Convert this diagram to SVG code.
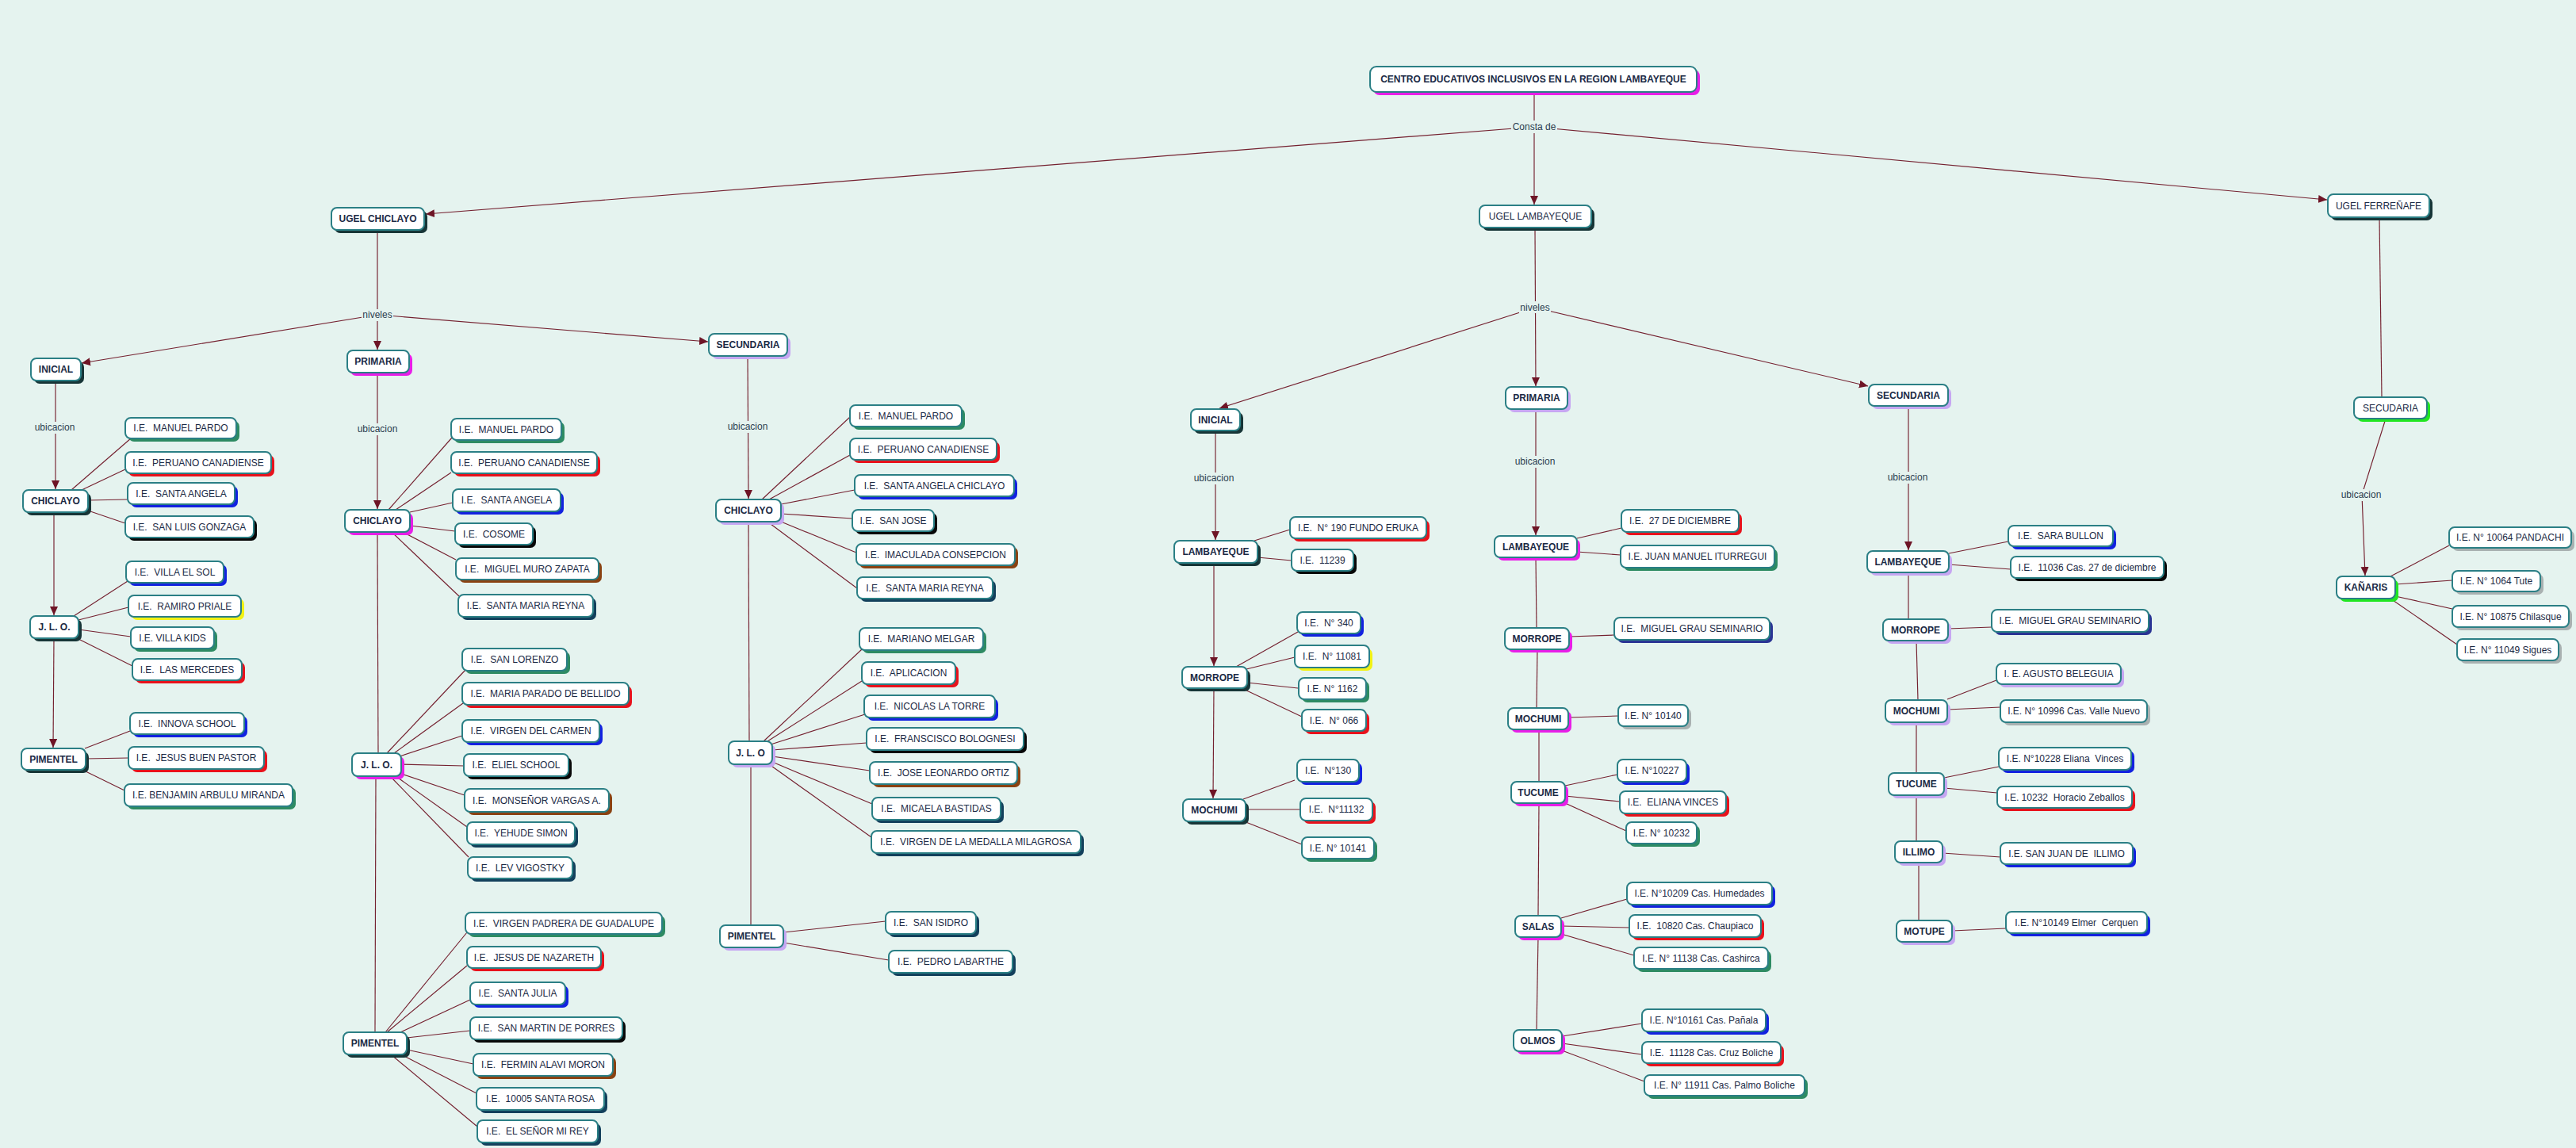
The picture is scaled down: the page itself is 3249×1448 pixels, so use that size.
<svg xmlns="http://www.w3.org/2000/svg" width="3249" height="1448" viewBox="0 0 3249 1448">
<style>
.bg{fill:#e5f3ef}
.box{fill:#ffffff;stroke:#2b7f85;stroke-width:2}
.s{stroke:none}
.green{fill:#2e8b63}.red{fill:#e8121c}.blue{fill:#1222e0}.black{fill:#080808}.dark{fill:#173537}
.mag{fill:#e81ee8}.lav{fill:#c6a6f2}.yellow{fill:#f2f214}.brown{fill:#8a4212}.navy{fill:#13405c}
.gray{fill:#a9b1b1}.lime{fill:#22e622}.dblue{fill:#2a3494}
.t{font-family:"Liberation Sans",Arial,sans-serif;font-size:12px;fill:#1b2a45;text-anchor:middle;white-space:pre}
.b{font-weight:bold}
.c{stroke:#74202f;stroke-width:1.15;fill:none}
.lb{fill:#e5f3ef}
.lt{font-family:"Liberation Sans",Arial,sans-serif;font-size:12px;fill:#2b3d4f;text-anchor:middle}
</style>
<defs>
<marker id="ah" markerUnits="userSpaceOnUse" markerWidth="12" markerHeight="11" refX="11" refY="5" orient="auto">
<path d="M0,0 L11,5 L0,10 z" fill="#6e1526"/>
</marker>
</defs>
<rect class="bg" x="0" y="0" width="3249" height="1448"/>
<g id="connectors">
<line class="c" x1="1935" y1="116" x2="1935" y2="258" marker-end="url(#ah)"/>
<line class="c" x1="1935" y1="160" x2="537" y2="270" marker-end="url(#ah)"/>
<line class="c" x1="1935" y1="160" x2="2935" y2="252" marker-end="url(#ah)"/>
<line class="c" x1="476" y1="290" x2="476" y2="441" marker-end="url(#ah)"/>
<line class="c" x1="476" y1="397" x2="103" y2="458" marker-end="url(#ah)"/>
<line class="c" x1="476" y1="397" x2="893" y2="431" marker-end="url(#ah)"/>
<line class="c" x1="70" y1="480" x2="70" y2="617" marker-end="url(#ah)"/>
<line class="c" x1="68" y1="646" x2="68" y2="776" marker-end="url(#ah)"/>
<line class="c" x1="68" y1="805" x2="67" y2="943" marker-end="url(#ah)"/>
<line class="c" x1="476" y1="470" x2="476" y2="642" marker-end="url(#ah)"/>
<line class="c" x1="476" y1="671" x2="477" y2="950"/>
<line class="c" x1="474" y1="979" x2="473" y2="1302"/>
<line class="c" x1="943" y1="449" x2="944" y2="629" marker-end="url(#ah)"/>
<line class="c" x1="944" y1="658" x2="945" y2="935"/>
<line class="c" x1="947" y1="964" x2="947" y2="1167"/>
<line class="c" x1="90" y1="618" x2="165" y2="553"/>
<line class="c" x1="103" y1="618" x2="158" y2="592"/>
<line class="c" x1="111" y1="631" x2="161" y2="630"/>
<line class="c" x1="111" y1="644" x2="158" y2="660"/>
<line class="c" x1="93" y1="777" x2="161" y2="733"/>
<line class="c" x1="99" y1="782" x2="162" y2="766"/>
<line class="c" x1="99" y1="794" x2="165" y2="803"/>
<line class="c" x1="97" y1="805" x2="167" y2="840"/>
<line class="c" x1="107" y1="944" x2="164" y2="922"/>
<line class="c" x1="108" y1="957" x2="162" y2="956"/>
<line class="c" x1="104" y1="971" x2="157" y2="997"/>
<line class="c" x1="490" y1="643" x2="570" y2="552"/>
<line class="c" x1="499" y1="643" x2="569" y2="596"/>
<line class="c" x1="517" y1="646" x2="571" y2="634"/>
<line class="c" x1="517" y1="663" x2="574" y2="670"/>
<line class="c" x1="508" y1="671" x2="575" y2="706"/>
<line class="c" x1="494" y1="671" x2="579" y2="752"/>
<line class="c" x1="488" y1="950" x2="587" y2="845"/>
<line class="c" x1="497" y1="950" x2="584" y2="887"/>
<line class="c" x1="504" y1="954" x2="583" y2="928"/>
<line class="c" x1="506" y1="964" x2="585" y2="966"/>
<line class="c" x1="506" y1="976" x2="586" y2="1003"/>
<line class="c" x1="499" y1="979" x2="589" y2="1043"/>
<line class="c" x1="492" y1="979" x2="591" y2="1081"/>
<line class="c" x1="486" y1="1302" x2="589" y2="1176"/>
<line class="c" x1="488" y1="1302" x2="589" y2="1218"/>
<line class="c" x1="505" y1="1302" x2="593" y2="1261"/>
<line class="c" x1="513" y1="1309" x2="593" y2="1300"/>
<line class="c" x1="513" y1="1324" x2="597" y2="1342"/>
<line class="c" x1="506" y1="1330" x2="601" y2="1379"/>
<line class="c" x1="493" y1="1330" x2="602" y2="1421"/>
<line class="c" x1="961" y1="630" x2="1072" y2="526"/>
<line class="c" x1="970" y1="630" x2="1072" y2="574"/>
<line class="c" x1="985" y1="636" x2="1078" y2="618"/>
<line class="c" x1="985" y1="648" x2="1075" y2="654"/>
<line class="c" x1="985" y1="658" x2="1080" y2="697"/>
<line class="c" x1="968" y1="658" x2="1081" y2="742"/>
<line class="c" x1="963" y1="935" x2="1087" y2="819"/>
<line class="c" x1="968" y1="935" x2="1087" y2="859"/>
<line class="c" x1="972" y1="939" x2="1091" y2="901"/>
<line class="c" x1="974" y1="946" x2="1093" y2="937"/>
<line class="c" x1="974" y1="954" x2="1097" y2="972"/>
<line class="c" x1="974" y1="961" x2="1100" y2="1014"/>
<line class="c" x1="970" y1="964" x2="1099" y2="1056"/>
<line class="c" x1="988" y1="1176" x2="1117" y2="1162"/>
<line class="c" x1="988" y1="1189" x2="1121" y2="1211"/>
<line class="c" x1="1936" y1="287" x2="1937" y2="487" marker-end="url(#ah)"/>
<line class="c" x1="1936" y1="388" x2="1538" y2="515" marker-end="url(#ah)"/>
<line class="c" x1="1936" y1="388" x2="2356" y2="487" marker-end="url(#ah)"/>
<line class="c" x1="1533" y1="542" x2="1533" y2="681" marker-end="url(#ah)"/>
<line class="c" x1="1531" y1="710" x2="1531" y2="840" marker-end="url(#ah)"/>
<line class="c" x1="1531" y1="868" x2="1530" y2="1007" marker-end="url(#ah)"/>
<line class="c" x1="1937" y1="516" x2="1937" y2="675" marker-end="url(#ah)"/>
<line class="c" x1="1937" y1="703" x2="1938" y2="792"/>
<line class="c" x1="1939" y1="819" x2="1938" y2="893"/>
<line class="c" x1="1941" y1="920" x2="1941" y2="986"/>
<line class="c" x1="1941" y1="1013" x2="1940" y2="1155"/>
<line class="c" x1="1940" y1="1182" x2="1938" y2="1299"/>
<line class="c" x1="2407" y1="512" x2="2407" y2="694" marker-end="url(#ah)"/>
<line class="c" x1="2407" y1="722" x2="2407" y2="781"/>
<line class="c" x1="2417" y1="808" x2="2419" y2="883"/>
<line class="c" x1="2417" y1="911" x2="2417" y2="975"/>
<line class="c" x1="2417" y1="1003" x2="2417" y2="1061"/>
<line class="c" x1="2420" y1="1088" x2="2420" y2="1161"/>
<line class="c" x1="1582" y1="682" x2="1627" y2="668"/>
<line class="c" x1="1586" y1="703" x2="1629" y2="707"/>
<line class="c" x1="1559" y1="841" x2="1637" y2="797"/>
<line class="c" x1="1572" y1="844" x2="1633" y2="829"/>
<line class="c" x1="1573" y1="861" x2="1637" y2="868"/>
<line class="c" x1="1566" y1="868" x2="1642" y2="904"/>
<line class="c" x1="1568" y1="1008" x2="1633" y2="984"/>
<line class="c" x1="1571" y1="1021" x2="1640" y2="1021"/>
<line class="c" x1="1569" y1="1036" x2="1642" y2="1065"/>
<line class="c" x1="1989" y1="679" x2="2045" y2="666"/>
<line class="c" x1="1989" y1="696" x2="2044" y2="700"/>
<line class="c" x1="1979" y1="803" x2="2036" y2="801"/>
<line class="c" x1="1978" y1="905" x2="2041" y2="903"/>
<line class="c" x1="1974" y1="991" x2="2040" y2="977"/>
<line class="c" x1="1974" y1="1004" x2="2043" y2="1011"/>
<line class="c" x1="1974" y1="1013" x2="2051" y2="1048"/>
<line class="c" x1="1969" y1="1158" x2="2052" y2="1134"/>
<line class="c" x1="1969" y1="1168" x2="2055" y2="1170"/>
<line class="c" x1="1969" y1="1178" x2="2061" y2="1205"/>
<line class="c" x1="1970" y1="1307" x2="2071" y2="1291"/>
<line class="c" x1="1970" y1="1316" x2="2071" y2="1330"/>
<line class="c" x1="1970" y1="1325" x2="2074" y2="1364"/>
<line class="c" x1="2458" y1="698" x2="2533" y2="683"/>
<line class="c" x1="2458" y1="712" x2="2536" y2="718"/>
<line class="c" x1="2457" y1="793" x2="2512" y2="791"/>
<line class="c" x1="2456" y1="882" x2="2518" y2="858"/>
<line class="c" x1="2456" y1="895" x2="2523" y2="892"/>
<line class="c" x1="2452" y1="981" x2="2521" y2="967"/>
<line class="c" x1="2452" y1="994" x2="2519" y2="1000"/>
<line class="c" x1="2450" y1="1076" x2="2523" y2="1081"/>
<line class="c" x1="2462" y1="1174" x2="2530" y2="1171"/>
<line class="c" x1="3001" y1="274" x2="3004" y2="501"/>
<polyline class="c" points="3009,528 2979,624 2983,726" marker-end="url(#ah)"/>
<line class="c" x1="3015" y1="727" x2="3089" y2="688"/>
<line class="c" x1="3021" y1="737" x2="3093" y2="732"/>
<line class="c" x1="3021" y1="752" x2="3093" y2="768"/>
<line class="c" x1="3015" y1="755" x2="3099" y2="813"/>
</g>
<g id="labels">
<rect class="lb" x="1906" y="152" width="58" height="16"/><text class="lt" x="1935" y="164">Consta de</text>
<rect class="lb" x="456" y="390" width="40" height="15"/><text class="lt" x="476" y="401">niveles</text>
<rect class="lb" x="1916" y="380" width="40" height="15"/><text class="lt" x="1936" y="392">niveles</text>
<rect class="lb" x="43" y="532" width="53" height="15"/><text class="lt" x="69" y="543">ubicacion</text>
<rect class="lb" x="450" y="534" width="53" height="15"/><text class="lt" x="476" y="545">ubicacion</text>
<rect class="lb" x="917" y="531" width="53" height="15"/><text class="lt" x="943" y="542">ubicacion</text>
<rect class="lb" x="1505" y="596" width="53" height="15"/><text class="lt" x="1531" y="607">ubicacion</text>
<rect class="lb" x="1910" y="575" width="53" height="15"/><text class="lt" x="1936" y="586">ubicacion</text>
<rect class="lb" x="2380" y="595" width="53" height="15"/><text class="lt" x="2406" y="606">ubicacion</text>
<rect class="lb" x="2952" y="617" width="53" height="15"/><text class="lt" x="2978" y="628">ubicacion</text>
</g>
<g id="n_title"><rect class="s mag" x="1732" y="88" width="412" height="32" rx="8"/><rect class="box" x="1728" y="84" width="412" height="32" rx="8"/><text class="t b" x="1934" y="104">CENTRO EDUCATIVOS INCLUSIVOS EN LA REGION LAMBAYEQUE</text></g>
<g id="n_ugel_chiclayo"><rect class="s dark" x="422" y="266" width="117" height="28" rx="7"/><rect class="box" x="418" y="262" width="117" height="28" rx="7"/><text class="t b" x="476.5" y="280.3">UGEL CHICLAYO</text></g>
<g id="n_ugel_lambayeque"><rect class="s dark" x="1870" y="263" width="141" height="28" rx="7"/><rect class="box" x="1866" y="259" width="141" height="28" rx="7"/><text class="t" x="1936.5" y="277.3">UGEL LAMBAYEQUE</text></g>
<g id="n_ugel_ferrenafe"><rect class="s dark" x="2940" y="249" width="128" height="29" rx="7"/><rect class="box" x="2936" y="245" width="128" height="29" rx="7"/><text class="t" x="3000" y="263.8">UGEL FERREÑAFE</text></g>
<g id="n_c_inicial"><rect class="s dark" x="43" y="456" width="63" height="28" rx="7"/><rect class="box" x="39" y="452" width="63" height="28" rx="7"/><text class="t b" x="70.5" y="470.3">INICIAL</text></g>
<g id="n_c_primaria"><rect class="s mag" x="442" y="446" width="78" height="28" rx="7"/><rect class="box" x="438" y="442" width="78" height="28" rx="7"/><text class="t b" x="477" y="460.3">PRIMARIA</text></g>
<g id="n_c_secundaria"><rect class="s lav" x="898" y="425" width="99" height="28" rx="7"/><rect class="box" x="894" y="421" width="99" height="28" rx="7"/><text class="t b" x="943.5" y="439.3">SECUNDARIA</text></g>
<g id="n_ci_chiclayo"><rect class="s dark" x="33" y="622" width="82" height="28" rx="7"/><rect class="box" x="29" y="618" width="82" height="28" rx="7"/><text class="t b" x="70" y="636.3">CHICLAYO</text></g>
<g id="n_ci1"><rect class="s green" x="162" y="531" width="140" height="26" rx="7"/><rect class="box" x="158" y="527" width="140" height="26" rx="7"/><text class="t" x="228" y="544.3">I.E.  MANUEL PARDO</text></g>
<g id="n_ci2"><rect class="s red" x="162" y="574" width="184" height="27" rx="7"/><rect class="box" x="158" y="570" width="184" height="27" rx="7"/><text class="t" x="250" y="587.8">I.E.  PERUANO CANADIENSE</text></g>
<g id="n_ci3"><rect class="s blue" x="165" y="613" width="135" height="27" rx="7"/><rect class="box" x="161" y="609" width="135" height="27" rx="7"/><text class="t" x="228.5" y="626.8">I.E.  SANTA ANGELA</text></g>
<g id="n_ci4"><rect class="s black" x="162" y="655" width="162" height="27" rx="7"/><rect class="box" x="158" y="651" width="162" height="27" rx="7"/><text class="t" x="239" y="668.8">I.E.  SAN LUIS GONZAGA</text></g>
<g id="n_ci_jlo"><rect class="s dark" x="42" y="781" width="61" height="28" rx="7"/><rect class="box" x="38" y="777" width="61" height="28" rx="7"/><text class="t b" x="68.5" y="795.3">J. L. O.</text></g>
<g id="n_ci5"><rect class="s blue" x="163" y="712" width="123" height="27" rx="7"/><rect class="box" x="159" y="708" width="123" height="27" rx="7"/><text class="t" x="220.5" y="725.8">I.E.  VILLA EL SOL</text></g>
<g id="n_ci6"><rect class="s yellow" x="166" y="755" width="142" height="27" rx="7"/><rect class="box" x="162" y="751" width="142" height="27" rx="7"/><text class="t" x="233" y="768.8">I.E.  RAMIRO PRIALE</text></g>
<g id="n_ci7"><rect class="s green" x="169" y="795" width="105" height="27" rx="7"/><rect class="box" x="165" y="791" width="105" height="27" rx="7"/><text class="t" x="217.5" y="808.8">I.E. VILLA KIDS</text></g>
<g id="n_ci8"><rect class="s red" x="171" y="835" width="138" height="27" rx="7"/><rect class="box" x="167" y="831" width="138" height="27" rx="7"/><text class="t" x="236" y="848.8">I.E.  LAS MERCEDES</text></g>
<g id="n_ci_pimentel"><rect class="s dark" x="31" y="948" width="81" height="27" rx="7"/><rect class="box" x="27" y="944" width="81" height="27" rx="7"/><text class="t b" x="67.5" y="961.8">PIMENTEL</text></g>
<g id="n_ci9"><rect class="s blue" x="168" y="903" width="144" height="27" rx="7"/><rect class="box" x="164" y="899" width="144" height="27" rx="7"/><text class="t" x="236" y="916.8">I.E.  INNOVA SCHOOL</text></g>
<g id="n_ci10"><rect class="s red" x="166" y="946" width="171" height="28" rx="7"/><rect class="box" x="162" y="942" width="171" height="28" rx="7"/><text class="t" x="247.5" y="960.3">I.E.  JESUS BUEN PASTOR</text></g>
<g id="n_ci11"><rect class="s green" x="161" y="993" width="212" height="28" rx="7"/><rect class="box" x="157" y="989" width="212" height="28" rx="7"/><text class="t" x="263" y="1007.3">I.E. BENJAMIN ARBULU MIRANDA</text></g>
<g id="n_cp_chiclayo"><rect class="s mag" x="439" y="647" width="82" height="28" rx="7"/><rect class="box" x="435" y="643" width="82" height="28" rx="7"/><text class="t b" x="476" y="661.3">CHICLAYO</text></g>
<g id="n_cp1"><rect class="s green" x="573" y="532" width="139" height="27" rx="7"/><rect class="box" x="569" y="528" width="139" height="27" rx="7"/><text class="t" x="638.5" y="545.8">I.E.  MANUEL PARDO</text></g>
<g id="n_cp2"><rect class="s red" x="573" y="574" width="184" height="27" rx="7"/><rect class="box" x="569" y="570" width="184" height="27" rx="7"/><text class="t" x="661" y="587.8">I.E.  PERUANO CANADIENSE</text></g>
<g id="n_cp3"><rect class="s blue" x="575" y="621" width="136" height="28" rx="7"/><rect class="box" x="571" y="617" width="136" height="28" rx="7"/><text class="t" x="639" y="635.3">I.E.  SANTA ANGELA</text></g>
<g id="n_cp4"><rect class="s black" x="578" y="664" width="98" height="27" rx="7"/><rect class="box" x="574" y="660" width="98" height="27" rx="7"/><text class="t" x="623" y="677.8">I.E.  COSOME</text></g>
<g id="n_cp5"><rect class="s brown" x="579" y="708" width="180" height="27" rx="7"/><rect class="box" x="575" y="704" width="180" height="27" rx="7"/><text class="t" x="665" y="721.8">I.E.  MIGUEL MURO ZAPATA</text></g>
<g id="n_cp6"><rect class="s navy" x="582" y="754" width="170" height="28" rx="7"/><rect class="box" x="578" y="750" width="170" height="28" rx="7"/><text class="t" x="663" y="768.3">I.E.  SANTA MARIA REYNA</text></g>
<g id="n_cp_jlo"><rect class="s mag" x="448" y="954" width="62" height="29" rx="7"/><rect class="box" x="444" y="950" width="62" height="29" rx="7"/><text class="t b" x="475" y="968.8">J. L. O.</text></g>
<g id="n_cp7"><rect class="s green" x="587" y="822" width="132" height="28" rx="7"/><rect class="box" x="583" y="818" width="132" height="28" rx="7"/><text class="t" x="649" y="836.3">I.E.  SAN LORENZO</text></g>
<g id="n_cp8"><rect class="s red" x="587" y="865" width="210" height="28" rx="7"/><rect class="box" x="583" y="861" width="210" height="28" rx="7"/><text class="t" x="688" y="879.3">I.E.  MARIA PARADO DE BELLIDO</text></g>
<g id="n_cp9"><rect class="s blue" x="587" y="912" width="173" height="28" rx="7"/><rect class="box" x="583" y="908" width="173" height="28" rx="7"/><text class="t" x="669.5" y="926.3">I.E.  VIRGEN DEL CARMEN</text></g>
<g id="n_cp10"><rect class="s black" x="589" y="955" width="132" height="28" rx="7"/><rect class="box" x="585" y="951" width="132" height="28" rx="7"/><text class="t" x="651" y="969.3">I.E.  ELIEL SCHOOL</text></g>
<g id="n_cp11"><rect class="s brown" x="590" y="999" width="182" height="29" rx="7"/><rect class="box" x="586" y="995" width="182" height="29" rx="7"/><text class="t" x="677" y="1013.8">I.E.  MONSEÑOR VARGAS A.</text></g>
<g id="n_cp12"><rect class="s navy" x="593" y="1041" width="136" height="28" rx="7"/><rect class="box" x="589" y="1037" width="136" height="28" rx="7"/><text class="t" x="657" y="1055.3">I.E.  YEHUDE SIMON</text></g>
<g id="n_cp13"><rect class="s navy" x="594" y="1085" width="132" height="27" rx="7"/><rect class="box" x="590" y="1081" width="132" height="27" rx="7"/><text class="t" x="656" y="1098.8">I.E.  LEV VIGOSTKY</text></g>
<g id="n_cp_pimentel"><rect class="s dark" x="437" y="1306" width="80" height="28" rx="7"/><rect class="box" x="433" y="1302" width="80" height="28" rx="7"/><text class="t b" x="473" y="1320.3">PIMENTEL</text></g>
<g id="n_cp14"><rect class="s green" x="591" y="1155" width="248" height="27" rx="7"/><rect class="box" x="587" y="1151" width="248" height="27" rx="7"/><text class="t" x="711" y="1168.8">I.E.  VIRGEN PADRERA DE GUADALUPE</text></g>
<g id="n_cp15"><rect class="s red" x="593" y="1198" width="169" height="27" rx="7"/><rect class="box" x="589" y="1194" width="169" height="27" rx="7"/><text class="t" x="673.5" y="1211.8">I.E.  JESUS DE NAZARETH</text></g>
<g id="n_cp16"><rect class="s blue" x="597" y="1243" width="120" height="28" rx="7"/><rect class="box" x="593" y="1239" width="120" height="28" rx="7"/><text class="t" x="653" y="1257.3">I.E.  SANTA JULIA</text></g>
<g id="n_cp17"><rect class="s black" x="597" y="1287" width="192" height="28" rx="7"/><rect class="box" x="593" y="1283" width="192" height="28" rx="7"/><text class="t" x="689" y="1301.3">I.E.  SAN MARTIN DE PORRES</text></g>
<g id="n_cp18"><rect class="s brown" x="601" y="1333" width="176" height="28" rx="7"/><rect class="box" x="597" y="1329" width="176" height="28" rx="7"/><text class="t" x="685" y="1347.3">I.E.  FERMIN ALAVI MORON</text></g>
<g id="n_cp19"><rect class="s navy" x="605" y="1376" width="161" height="28" rx="7"/><rect class="box" x="601" y="1372" width="161" height="28" rx="7"/><text class="t" x="681.5" y="1390.3">I.E.  10005 SANTA ROSA</text></g>
<g id="n_cp20"><rect class="s navy" x="606" y="1417" width="152" height="28" rx="7"/><rect class="box" x="602" y="1413" width="152" height="28" rx="7"/><text class="t" x="678" y="1431.3">I.E.  EL SEÑOR MI REY</text></g>
<g id="n_cs_chiclayo"><rect class="s lav" x="907" y="634" width="82" height="28" rx="7"/><rect class="box" x="903" y="630" width="82" height="28" rx="7"/><text class="t b" x="944" y="648.3">CHICLAYO</text></g>
<g id="n_cs1"><rect class="s green" x="1076" y="515" width="141" height="27" rx="7"/><rect class="box" x="1072" y="511" width="141" height="27" rx="7"/><text class="t" x="1142.5" y="528.8">I.E.  MANUEL PARDO</text></g>
<g id="n_cs2"><rect class="s red" x="1076" y="557" width="185" height="27" rx="7"/><rect class="box" x="1072" y="553" width="185" height="27" rx="7"/><text class="t" x="1164.5" y="570.8">I.E.  PERUANO CANADIENSE</text></g>
<g id="n_cs3"><rect class="s blue" x="1082" y="603" width="201" height="27" rx="7"/><rect class="box" x="1078" y="599" width="201" height="27" rx="7"/><text class="t" x="1178.5" y="616.8">I.E.  SANTA ANGELA CHICLAYO</text></g>
<g id="n_cs4"><rect class="s black" x="1079" y="647" width="103" height="27" rx="7"/><rect class="box" x="1075" y="643" width="103" height="27" rx="7"/><text class="t" x="1126.5" y="660.8">I.E.  SAN JOSE</text></g>
<g id="n_cs5"><rect class="s brown" x="1084" y="690" width="200" height="27" rx="7"/><rect class="box" x="1080" y="686" width="200" height="27" rx="7"/><text class="t" x="1180" y="703.8">I.E.  IMACULADA CONSEPCION</text></g>
<g id="n_cs6"><rect class="s navy" x="1085" y="732" width="171" height="27" rx="7"/><rect class="box" x="1081" y="728" width="171" height="27" rx="7"/><text class="t" x="1166.5" y="745.8">I.E.  SANTA MARIA REYNA</text></g>
<g id="n_cs_jlo"><rect class="s lav" x="923" y="939" width="55" height="29" rx="7"/><rect class="box" x="919" y="935" width="55" height="29" rx="7"/><text class="t b" x="946.5" y="953.8">J. L. O</text></g>
<g id="n_cs7"><rect class="s green" x="1088" y="796" width="156" height="28" rx="7"/><rect class="box" x="1084" y="792" width="156" height="28" rx="7"/><text class="t" x="1162" y="810.3">I.E.  MARIANO MELGAR</text></g>
<g id="n_cs8"><rect class="s red" x="1091" y="839" width="118" height="28" rx="7"/><rect class="box" x="1087" y="835" width="118" height="28" rx="7"/><text class="t" x="1146" y="853.3">I.E.  APLICACION</text></g>
<g id="n_cs9"><rect class="s blue" x="1094" y="881" width="165" height="28" rx="7"/><rect class="box" x="1090" y="877" width="165" height="28" rx="7"/><text class="t" x="1172.5" y="895.3">I.E.  NICOLAS LA TORRE</text></g>
<g id="n_cs10"><rect class="s black" x="1097" y="922" width="198" height="28" rx="7"/><rect class="box" x="1093" y="918" width="198" height="28" rx="7"/><text class="t" x="1192" y="936.3">I.E.  FRANSCISCO BOLOGNESI</text></g>
<g id="n_cs11"><rect class="s brown" x="1101" y="965" width="186" height="28" rx="7"/><rect class="box" x="1097" y="961" width="186" height="28" rx="7"/><text class="t" x="1190" y="979.3">I.E.  JOSE LEONARDO ORTIZ</text></g>
<g id="n_cs12"><rect class="s navy" x="1104" y="1010" width="162" height="28" rx="7"/><rect class="box" x="1100" y="1006" width="162" height="28" rx="7"/><text class="t" x="1181" y="1024.3">I.E.  MICAELA BASTIDAS</text></g>
<g id="n_cs13"><rect class="s navy" x="1103" y="1052" width="264" height="28" rx="7"/><rect class="box" x="1099" y="1048" width="264" height="28" rx="7"/><text class="t" x="1231" y="1066.3">I.E.  VIRGEN DE LA MEDALLA MILAGROSA</text></g>
<g id="n_cs_pimentel"><rect class="s lav" x="912" y="1171" width="80" height="28" rx="7"/><rect class="box" x="908" y="1167" width="80" height="28" rx="7"/><text class="t b" x="948" y="1185.3">PIMENTEL</text></g>
<g id="n_cs14"><rect class="s navy" x="1121" y="1154" width="114" height="28" rx="7"/><rect class="box" x="1117" y="1150" width="114" height="28" rx="7"/><text class="t" x="1174" y="1168.3">I.E.  SAN ISIDRO</text></g>
<g id="n_cs15"><rect class="s navy" x="1125" y="1203" width="156" height="28" rx="7"/><rect class="box" x="1121" y="1199" width="156" height="28" rx="7"/><text class="t" x="1199" y="1217.3">I.E.  PEDRO LABARTHE</text></g>
<g id="n_l_inicial"><rect class="s dark" x="1506" y="520" width="62" height="27" rx="7"/><rect class="box" x="1502" y="516" width="62" height="27" rx="7"/><text class="t b" x="1533" y="533.8">INICIAL</text></g>
<g id="n_l_primaria"><rect class="s lav" x="1903" y="492" width="78" height="28" rx="7"/><rect class="box" x="1899" y="488" width="78" height="28" rx="7"/><text class="t b" x="1938" y="506.3">PRIMARIA</text></g>
<g id="n_l_secundaria"><rect class="s lav" x="2361" y="489" width="100" height="27" rx="7"/><rect class="box" x="2357" y="485" width="100" height="27" rx="7"/><text class="t b" x="2407" y="502.8">SECUNDARIA</text></g>
<g id="n_li_lambayeque"><rect class="s dark" x="1485" y="686" width="105" height="28" rx="7"/><rect class="box" x="1481" y="682" width="105" height="28" rx="7"/><text class="t b" x="1533.5" y="700.3">LAMBAYEQUE</text></g>
<g id="n_li1"><rect class="s red" x="1631" y="656" width="172" height="27" rx="7"/><rect class="box" x="1627" y="652" width="172" height="27" rx="7"/><text class="t" x="1713" y="669.8">I.E.  N° 190 FUNDO ERUKA</text></g>
<g id="n_li2"><rect class="s black" x="1633" y="697" width="78" height="27" rx="7"/><rect class="box" x="1629" y="693" width="78" height="27" rx="7"/><text class="t" x="1668" y="710.8">I.E.  11239</text></g>
<g id="n_li_morrope"><rect class="s dark" x="1495" y="845" width="82" height="27" rx="7"/><rect class="box" x="1491" y="841" width="82" height="27" rx="7"/><text class="t b" x="1532" y="858.8">MORROPE</text></g>
<g id="n_li3"><rect class="s blue" x="1640" y="776" width="80" height="27" rx="7"/><rect class="box" x="1636" y="772" width="80" height="27" rx="7"/><text class="t" x="1676" y="789.8">I.E.  N° 340</text></g>
<g id="n_li4"><rect class="s yellow" x="1637" y="818" width="94" height="28" rx="7"/><rect class="box" x="1633" y="814" width="94" height="28" rx="7"/><text class="t" x="1680" y="832.3">I.E.  N° 11081</text></g>
<g id="n_li5"><rect class="s green" x="1642" y="859" width="85" height="27" rx="7"/><rect class="box" x="1638" y="855" width="85" height="27" rx="7"/><text class="t" x="1680.5" y="872.8">I.E. N° 1162</text></g>
<g id="n_li6"><rect class="s red" x="1646" y="899" width="81" height="27" rx="7"/><rect class="box" x="1642" y="895" width="81" height="27" rx="7"/><text class="t" x="1682.5" y="912.8">I.E.  N° 066</text></g>
<g id="n_li_mochumi"><rect class="s dark" x="1496" y="1012" width="79" height="28" rx="7"/><rect class="box" x="1492" y="1008" width="79" height="28" rx="7"/><text class="t b" x="1531.5" y="1026.3">MOCHUMI</text></g>
<g id="n_li7"><rect class="s blue" x="1640" y="962" width="78" height="28" rx="7"/><rect class="box" x="1636" y="958" width="78" height="28" rx="7"/><text class="t" x="1675" y="976.3">I.E.  N°130</text></g>
<g id="n_li8"><rect class="s red" x="1644" y="1011" width="91" height="28" rx="7"/><rect class="box" x="1640" y="1007" width="91" height="28" rx="7"/><text class="t" x="1685.5" y="1025.3">I.E.  N°11132</text></g>
<g id="n_li9"><rect class="s green" x="1646" y="1060" width="91" height="27" rx="7"/><rect class="box" x="1642" y="1056" width="91" height="27" rx="7"/><text class="t" x="1687.5" y="1073.8">I.E. N° 10141</text></g>
<g id="n_lp_lambayeque"><rect class="s mag" x="1889" y="680" width="104" height="27" rx="7"/><rect class="box" x="1885" y="676" width="104" height="27" rx="7"/><text class="t b" x="1937" y="693.8">LAMBAYEQUE</text></g>
<g id="n_lp1"><rect class="s red" x="2049" y="647" width="148" height="28" rx="7"/><rect class="box" x="2045" y="643" width="148" height="28" rx="7"/><text class="t" x="2119" y="661.3">I.E.  27 DE DICIEMBRE</text></g>
<g id="n_lp2"><rect class="s green" x="2048" y="692" width="194" height="28" rx="7"/><rect class="box" x="2044" y="688" width="194" height="28" rx="7"/><text class="t" x="2141" y="706.3">I.E. JUAN MANUEL ITURREGUI</text></g>
<g id="n_lp_morrope"><rect class="s mag" x="1902" y="796" width="81" height="27" rx="7"/><rect class="box" x="1898" y="792" width="81" height="27" rx="7"/><text class="t b" x="1938.5" y="809.8">MORROPE</text></g>
<g id="n_lp3"><rect class="s dblue" x="2040" y="783" width="196" height="28" rx="7"/><rect class="box" x="2036" y="779" width="196" height="28" rx="7"/><text class="t" x="2134" y="797.3">I.E.  MIGUEL GRAU SEMINARIO</text></g>
<g id="n_lp_mochumi"><rect class="s mag" x="1906" y="897" width="76" height="27" rx="7"/><rect class="box" x="1902" y="893" width="76" height="27" rx="7"/><text class="t b" x="1940" y="910.8">MOCHUMI</text></g>
<g id="n_lp4"><rect class="s gray" x="2045" y="893" width="88" height="27" rx="7"/><rect class="box" x="2041" y="889" width="88" height="27" rx="7"/><text class="t" x="2085" y="906.8">I.E. N° 10140</text></g>
<g id="n_lp_tucume"><rect class="s mag" x="1910" y="990" width="68" height="27" rx="7"/><rect class="box" x="1906" y="986" width="68" height="27" rx="7"/><text class="t b" x="1940" y="1003.8">TUCUME</text></g>
<g id="n_lp5"><rect class="s blue" x="2044" y="962" width="87" height="28" rx="7"/><rect class="box" x="2040" y="958" width="87" height="28" rx="7"/><text class="t" x="2083.5" y="976.3">I.E. N°10227</text></g>
<g id="n_lp6"><rect class="s red" x="2047" y="1002" width="134" height="28" rx="7"/><rect class="box" x="2043" y="998" width="134" height="28" rx="7"/><text class="t" x="2110" y="1016.3">I.E.  ELIANA VINCES</text></g>
<g id="n_lp7"><rect class="s green" x="2055" y="1041" width="89" height="27" rx="7"/><rect class="box" x="2051" y="1037" width="89" height="27" rx="7"/><text class="t" x="2095.5" y="1054.8">I.E. N° 10232</text></g>
<g id="n_lp_salas"><rect class="s mag" x="1915" y="1159" width="58" height="27" rx="7"/><rect class="box" x="1911" y="1155" width="58" height="27" rx="7"/><text class="t b" x="1940" y="1172.8">SALAS</text></g>
<g id="n_lp8"><rect class="s blue" x="2056" y="1117" width="183" height="28" rx="7"/><rect class="box" x="2052" y="1113" width="183" height="28" rx="7"/><text class="t" x="2143.5" y="1131.3">I.E. N°10209 Cas. Humedades</text></g>
<g id="n_lp9"><rect class="s red" x="2059" y="1158" width="166" height="28" rx="7"/><rect class="box" x="2055" y="1154" width="166" height="28" rx="7"/><text class="t" x="2138" y="1172.3">I.E.  10820 Cas. Chaupiaco</text></g>
<g id="n_lp10"><rect class="s green" x="2065" y="1199" width="169" height="27" rx="7"/><rect class="box" x="2061" y="1195" width="169" height="27" rx="7"/><text class="t" x="2145.5" y="1212.8">I.E. N° 11138 Cas. Cashirca</text></g>
<g id="n_lp_olmos"><rect class="s mag" x="1913" y="1303" width="61" height="27" rx="7"/><rect class="box" x="1909" y="1299" width="61" height="27" rx="7"/><text class="t b" x="1939.5" y="1316.8">OLMOS</text></g>
<g id="n_lp11"><rect class="s blue" x="2075" y="1277" width="156" height="28" rx="7"/><rect class="box" x="2071" y="1273" width="156" height="28" rx="7"/><text class="t" x="2149" y="1291.3">I.E. N°10161 Cas. Pañala</text></g>
<g id="n_lp12"><rect class="s red" x="2075" y="1318" width="175" height="27" rx="7"/><rect class="box" x="2071" y="1314" width="175" height="27" rx="7"/><text class="t" x="2158.5" y="1331.8">I.E.  11128 Cas. Cruz Boliche</text></g>
<g id="n_lp13"><rect class="s green" x="2078" y="1360" width="202" height="26" rx="7"/><rect class="box" x="2074" y="1356" width="202" height="26" rx="7"/><text class="t" x="2175" y="1373.3">I.E. N° 11911 Cas. Palmo Boliche</text></g>
<g id="n_ls_lambayeque"><rect class="s lav" x="2359" y="699" width="103" height="27" rx="7"/><rect class="box" x="2355" y="695" width="103" height="27" rx="7"/><text class="t b" x="2406.5" y="712.8">LAMBAYEQUE</text></g>
<g id="n_ls1"><rect class="s blue" x="2537" y="667" width="132" height="26" rx="7"/><rect class="box" x="2533" y="663" width="132" height="26" rx="7"/><text class="t" x="2599" y="680.3">I.E.  SARA BULLON</text></g>
<g id="n_ls2"><rect class="s black" x="2540" y="706" width="193" height="27" rx="7"/><rect class="box" x="2536" y="702" width="193" height="27" rx="7"/><text class="t" x="2632.5" y="719.8">I.E.  11036 Cas. 27 de diciembre</text></g>
<g id="n_ls_morrope"><rect class="s lav" x="2379" y="785" width="82" height="27" rx="7"/><rect class="box" x="2375" y="781" width="82" height="27" rx="7"/><text class="t b" x="2416" y="798.8">MORROPE</text></g>
<g id="n_ls3"><rect class="s dblue" x="2516" y="773" width="198" height="28" rx="7"/><rect class="box" x="2512" y="769" width="198" height="28" rx="7"/><text class="t" x="2611" y="787.3">I.E.  MIGUEL GRAU SEMINARIO</text></g>
<g id="n_ls_mochumi"><rect class="s lav" x="2382" y="887" width="78" height="28" rx="7"/><rect class="box" x="2378" y="883" width="78" height="28" rx="7"/><text class="t b" x="2417" y="901.3">MOCHUMI</text></g>
<g id="n_ls4"><rect class="s lav" x="2522" y="841" width="157" height="26" rx="7"/><rect class="box" x="2518" y="837" width="157" height="26" rx="7"/><text class="t" x="2596.5" y="854.3">I. E. AGUSTO BELEGUIA</text></g>
<g id="n_ls5"><rect class="s gray" x="2527" y="887" width="185" height="28" rx="7"/><rect class="box" x="2523" y="883" width="185" height="28" rx="7"/><text class="t" x="2615.5" y="901.3">I.E. N° 10996 Cas. Valle Nuevo</text></g>
<g id="n_ls_tucume"><rect class="s lav" x="2386" y="979" width="70" height="28" rx="7"/><rect class="box" x="2382" y="975" width="70" height="28" rx="7"/><text class="t b" x="2417" y="993.3">TUCUME</text></g>
<g id="n_ls6"><rect class="s blue" x="2525" y="947" width="167" height="28" rx="7"/><rect class="box" x="2521" y="943" width="167" height="28" rx="7"/><text class="t" x="2604.5" y="961.3">I.E. N°10228 Eliana  Vinces</text></g>
<g id="n_ls7"><rect class="s red" x="2523" y="996" width="170" height="27" rx="7"/><rect class="box" x="2519" y="992" width="170" height="27" rx="7"/><text class="t" x="2604" y="1009.8">I.E. 10232  Horacio Zeballos</text></g>
<g id="n_ls_illimo"><rect class="s lav" x="2394" y="1065" width="60" height="27" rx="7"/><rect class="box" x="2390" y="1061" width="60" height="27" rx="7"/><text class="t b" x="2420" y="1078.8">ILLIMO</text></g>
<g id="n_ls8"><rect class="s blue" x="2527" y="1067" width="167" height="27" rx="7"/><rect class="box" x="2523" y="1063" width="167" height="27" rx="7"/><text class="t" x="2606.5" y="1080.8">I.E. SAN JUAN DE  ILLIMO</text></g>
<g id="n_ls_motupe"><rect class="s lav" x="2396" y="1165" width="70" height="27" rx="7"/><rect class="box" x="2392" y="1161" width="70" height="27" rx="7"/><text class="t b" x="2427" y="1178.8">MOTUPE</text></g>
<g id="n_ls9"><rect class="s blue" x="2534" y="1154" width="178" height="27" rx="7"/><rect class="box" x="2530" y="1150" width="178" height="27" rx="7"/><text class="t" x="2619" y="1167.8">I.E. N°10149 Elmer  Cerquen</text></g>
<g id="n_f_secudaria"><rect class="s lime" x="2973" y="505" width="92" height="27" rx="7"/><rect class="box" x="2969" y="501" width="92" height="27" rx="7"/><text class="t" x="3015" y="518.8">SECUDARIA</text></g>
<g id="n_f_kanaris"><rect class="s lime" x="2951" y="731" width="74" height="28" rx="7"/><rect class="box" x="2947" y="727" width="74" height="28" rx="7"/><text class="t b" x="2984" y="745.3">KAÑARIS</text></g>
<g id="n_f1"><rect class="s gray" x="3093" y="669" width="154" height="26" rx="7"/><rect class="box" x="3089" y="665" width="154" height="26" rx="7"/><text class="t" x="3166" y="682.3">I.E. N° 10064 PANDACHI</text></g>
<g id="n_f2"><rect class="s gray" x="3097" y="724" width="111" height="26" rx="7"/><rect class="box" x="3093" y="720" width="111" height="26" rx="7"/><text class="t" x="3148.5" y="737.3">I.E. N° 1064 Tute</text></g>
<g id="n_f3"><rect class="s gray" x="3097" y="768" width="147" height="27" rx="7"/><rect class="box" x="3093" y="764" width="147" height="27" rx="7"/><text class="t" x="3166.5" y="781.8">I.E. N° 10875 Chilasque</text></g>
<g id="n_f4"><rect class="s gray" x="3103" y="810" width="128" height="27" rx="7"/><rect class="box" x="3099" y="806" width="128" height="27" rx="7"/><text class="t" x="3163" y="823.8">I.E. N° 11049 Sigues</text></g>
</svg>
